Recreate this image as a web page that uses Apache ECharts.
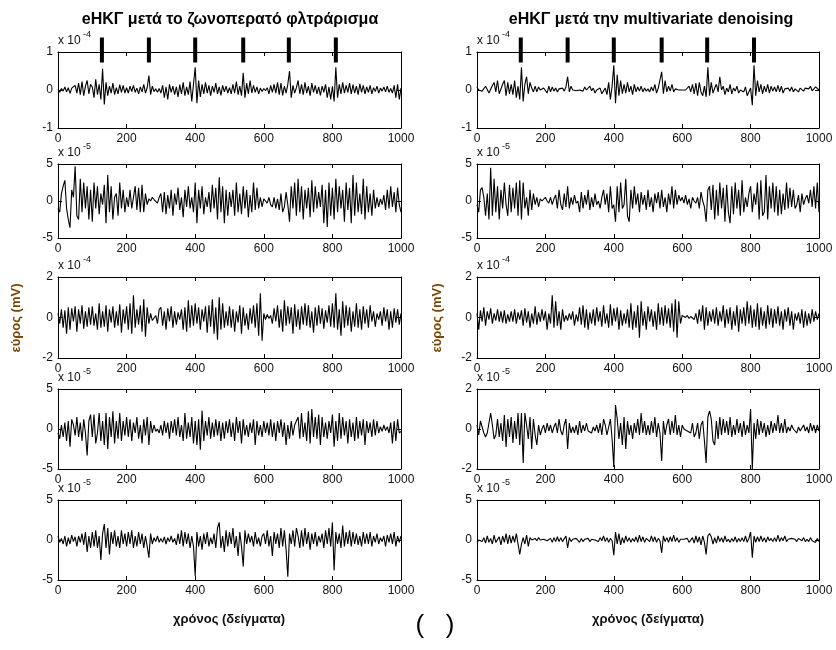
<!DOCTYPE html>
<html><head><meta charset="utf-8">
<script src="https://cdn.jsdelivr.net/npm/echarts@6/dist/echarts.min.js"></script>
<style>html,body{margin:0;padding:0;background:#fff}#c{width:836px;height:650px}</style>
</head><body><div id="c"></div><script>
// sample index (x axis), every 5th sample
const samples = [
0,5,10,15,20,25,30,35,40,45,50,55,60,65,70,75,80,85,90,95,
100,105,110,115,120,125,130,135,140,145,150,155,160,165,170,175,180,185,190,195,
200,205,210,215,220,225,230,235,240,245,250,255,260,265,270,275,280,285,290,295,
300,305,310,315,320,325,330,335,340,345,350,355,360,365,370,375,380,385,390,395,
400,405,410,415,420,425,430,435,440,445,450,455,460,465,470,475,480,485,490,495,
500,505,510,515,520,525,530,535,540,545,550,555,560,565,570,575,580,585,590,595,
600,605,610,615,620,625,630,635,640,645,650,655,660,665,670,675,680,685,690,695,
700,705,710,715,720,725,730,735,740,745,750,755,760,765,770,775,780,785,790,795,
800,805,810,815,820,825,830,835,840,845,850,855,860,865,870,875,880,885,890,895,
900,905,910,915,920,925,930,935,940,945,950,955,960,965,970,975,980,985,990,995,1000];

// amplitudes in units of 1e-6 mV
const bandpass1 = [
2,-6,4,-3,8,-5,6,-9,5,3,12,-8,18,-12,22,-15,10,25,-10,15,
8,-20,28,-12,15,-25,56,-38,20,-15,10,-8,18,-12,6,-10,14,-6,12,-8,
6,-8,10,-4,12,-6,5,-10,8,-5,15,-8,6,38,-12,10,-4,3,-6,4,
-8,12,-20,8,-25,15,-6,10,-12,8,-18,14,-10,20,-15,8,-12,22,-30,15,
60,-35,25,-18,15,-10,20,-8,12,-15,10,-6,18,-10,8,-14,12,-5,10,-8,
6,-10,15,-8,22,-12,10,-15,45,-20,18,-10,25,-8,12,-6,8,-10,5,-4,
4,-2,6,-10,12,-6,15,-8,20,-12,18,-14,10,-8,15,50,-20,12,-8,6,
25,-10,15,-12,20,-8,10,-15,18,-6,12,-10,8,-14,10,-6,15,-20,8,-25,
10,-30,60,-20,15,-10,20,-8,12,-6,18,-10,14,-8,10,-12,16,-6,12,-10,
8,-6,12,-10,6,-4,10,-8,5,-3,8,-5,10,-6,4,-8,12,-20,15,-25,5];
const denoised1 = [
8,0,-5,-3,2,10,5,-8,-5,12,20,-5,25,-10,-5,15,25,-15,20,-10,
15,-12,25,-20,10,-25,60,-30,15,35,-10,20,5,-5,10,-5,8,0,-5,5,
5,-8,10,-5,8,-3,5,-5,3,0,5,-3,8,35,-5,10,0,5,-2,3,
0,5,-3,8,0,-5,10,-2,5,-8,0,3,5,-10,-15,5,-12,20,-25,10,
65,-35,40,-15,25,-10,15,-8,20,-5,10,-12,15,-5,8,-3,10,-5,5,-3,
3,-5,8,-3,15,-8,5,0,48,-10,25,-5,10,-3,15,-5,3,5,0,-2,
0,2,0,-5,10,-5,15,-10,18,-15,20,-5,-15,10,-18,60,-15,20,-8,5,
15,-5,35,0,10,-12,5,-5,15,-10,5,-3,10,-8,0,5,-5,8,-15,-20,
5,-40,65,-15,25,-5,15,-10,10,-5,15,-8,10,-3,8,-5,12,-5,10,-8,
3,0,5,-3,8,-5,3,0,-5,5,0,-3,5,0,3,10,-2,-5,8,3,0];

const bandpass2 = [
-10,-15,10,20,28,-10,-25,-36,15,5,47,-20,-25,30,-15,25,-10,20,-25,15,
-28,25,-10,20,-18,10,-5,22,-30,35,-15,20,-25,5,10,-20,25,-10,15,-15,
5,-8,15,-10,5,20,-12,18,-15,22,-15,10,-5,3,0,5,2,0,-3,5,
10,-15,12,-18,8,-10,15,-20,10,-5,18,-12,5,-22,15,-8,20,-10,5,-15,
25,-30,15,-10,20,-18,5,-8,12,-15,22,-10,18,-25,32,-15,20,-30,15,-20,
12,-8,15,-20,25,-15,10,-18,20,-10,15,-22,8,-15,25,-12,18,-10,5,-8,
3,0,-3,5,-5,-8,5,-10,3,-12,10,-15,-8,12,-5,-28,20,-10,25,-20,
30,-15,20,-25,15,-10,18,-22,28,-15,20,-10,12,-8,22,-30,15,-35,25,-20,
18,-25,30,-15,20,-10,15,-28,25,-12,18,-30,35,-20,25,-15,10,-18,30,-25,
20,-15,10,-20,15,-10,5,-8,3,-5,8,-12,15,-10,20,-8,12,-15,18,-5,-15];
const denoised2 = [
-5,-15,15,18,5,-20,10,-25,45,-20,30,-15,20,-25,15,-10,25,-5,-20,22,
-15,18,-10,25,-20,28,-25,25,-10,5,-20,15,-12,10,-5,5,-8,3,0,2,
5,0,-3,5,-5,3,8,-10,15,-5,-12,10,-8,20,-10,5,-5,8,-3,0,
-15,12,-10,8,-5,15,-12,5,-8,10,-5,0,-10,5,15,-5,10,-15,20,-10,
-5,-28,20,-15,25,-10,-5,30,-20,-28,15,-10,20,-5,10,-15,12,-5,8,-12,
15,-8,5,-15,10,-3,12,-10,15,-8,5,-15,10,-5,20,-10,15,-5,8,0,
5,-3,8,-5,3,-10,5,0,-3,5,-10,12,0,-8,-28,15,20,-12,22,-25,
15,-20,25,-10,18,-28,22,-15,-30,20,-18,25,-10,15,-20,28,-15,5,-8,10,
20,-15,10,-5,25,-25,28,-20,-15,35,-25,20,-10,25,-15,20,-20,15,-18,10,
-12,25,-10,18,-8,15,-10,-5,8,-15,10,-5,3,8,-3,15,-8,20,-10,25,-15];

const bandpass3 = [
20,-30,40,-50,35,-80,50,-60,45,-20,55,-70,40,-30,60,-55,30,-45,50,-35,
55,-40,20,-60,70,-50,30,-45,60,-70,40,-25,55,-50,30,-40,65,-75,40,-30,
55,-60,70,-80,110,-50,40,-35,60,-70,90,-95,50,-30,20,-15,-20,10,-30,40,
50,-40,30,-60,45,-20,55,-50,30,-35,25,-10,40,-60,50,-70,85,-50,60,-40,
70,-30,50,-60,40,-20,55,-75,60,-45,90,-80,50,-110,100,-60,70,-50,30,-40,
55,-50,40,-70,30,-25,60,-80,50,-40,20,-60,45,-30,60,-50,70,-90,120,-115,
20,-10,15,-5,10,-30,45,-20,60,-50,40,-70,85,-40,55,-30,50,-80,65,-45,
40,-60,55,-35,70,-40,60,-50,30,-75,50,-40,60,-30,45,-55,35,-25,60,-45,
70,-50,120,-60,40,-90,80,-50,60,-40,50,-70,30,-45,70,-50,40,-60,55,-30,
40,-50,60,-20,30,-45,20,-10,30,-40,50,-20,40,-60,30,-50,45,-25,40,-35,20];
const denoised3 = [
20,-60,35,-20,50,-40,30,-10,45,-30,20,-15,40,-20,30,-25,35,-30,15,-20,
30,-20,40,-30,25,-10,35,-40,45,-25,30,-50,20,-30,55,-35,25,-20,40,-15,
30,-60,20,-30,110,-50,80,-40,30,-60,40,-20,10,-15,20,-10,30,-40,15,-20,
50,-35,60,-50,40,-60,25,-30,40,-40,50,-20,30,-45,60,-30,20,-50,65,-40,
45,-20,50,-60,35,-40,20,-30,40,-50,70,-60,30,-50,60,-100,80,-40,30,-60,
55,-20,40,-45,30,-60,70,-35,50,-40,60,-30,45,-50,70,-70,90,-100,80,-30,
10,5,0,10,-5,5,0,-10,20,-30,40,-20,60,-60,50,-40,30,-20,40,-30,
50,-40,30,-20,60,-50,40,-30,50,-60,30,-40,60,-70,40,-30,50,-40,80,-30,
60,-50,40,-45,70,-60,50,-40,30,-55,60,-35,45,-50,40,-30,55,-40,30,-60,
40,-20,50,-40,30,-60,20,-15,25,-30,40,-50,30,-40,20,-30,40,-20,30,-10,20];

const bandpass4 = [
-5,-12,5,-10,8,-15,10,-22,12,5,-8,15,-10,8,-15,12,-5,-33,10,18,
-10,18,-18,-5,20,-15,10,-20,20,-25,15,-10,22,-18,10,-12,20,-15,10,-8,
15,-10,12,-15,8,-5,15,-12,5,-18,12,-8,15,-20,10,-5,5,-3,0,-5,
5,-8,10,-5,8,-12,10,-5,12,-8,15,-10,5,-15,20,-12,8,-10,15,-18,
10,-20,12,-26,23,-15,10,-8,15,-12,8,-10,12,-8,10,-15,8,-12,10,-5,
12,-10,8,-15,15,-5,10,-18,12,-8,5,-10,8,-5,12,-20,10,-8,5,-10,
10,-5,8,-8,12,-10,8,-15,10,-5,12,-10,8,-20,5,-12,10,-8,5,10,
15,-12,20,-10,8,-15,22,-18,25,-10,15,-12,18,-20,15,-10,8,-12,10,-5,
18,-22,10,-15,20,-12,15,-8,10,-18,12,-10,8,-15,15,-12,10,-8,12,-20,
10,-5,8,-10,12,-8,10,-5,3,-3,5,-2,3,-5,8,-18,10,-15,12,-5,-3];
const denoised4 = [
2,-3,4,1,-2,-4,-2,3,8,2,-5,-3,5,-4,3,-6,7,-9,5,-4,
6,-7,4,-5,8,-8,8,-17,8,2,-5,6,-10,5,-3,-8,2,-3,0,2,
-2,3,-1,2,-2,1,3,-2,5,-1,-3,2,5,-10,3,-2,1,-2,2,-3,
4,-2,2,-1,3,-1,0,-2,1,-1,2,-2,3,-3,5,2,-3,-2,5,-5,
-19,12,5,-5,3,-8,6,-10,4,-3,2,-5,3,-2,5,-3,8,-2,4,-3,
2,-3,4,-2,6,-4,3,-2,-16,4,-3,2,5,-3,4,-2,7,-3,2,-4,
2,0,1,-1,0,-2,3,-4,-2,3,-5,2,4,-6,-17,6,9,5,-6,-8,
4,-5,6,-3,5,-2,4,-3,6,-4,2,-3,5,-2,3,-4,4,-3,2,-2,
10,-20,3,-5,5,-3,4,-2,3,-4,2,-3,4,-2,3,-1,7,-2,3,-2,
5,-2,1,-1,2,0,1,-2,1,-1,0,2,-1,1,-2,3,-1,2,-2,2,-1];

const bandpass5 = [
5,-3,2,-5,5,-8,3,-5,6,-2,4,-8,5,-3,8,-6,10,-15,5,-10,
10,-8,12,-10,5,-25,8,20,-10,15,-18,10,-5,12,-8,5,-10,12,-5,8,
-8,10,-5,12,-10,5,-8,10,-5,8,-10,5,-8,-22,8,-5,3,-2,5,-3,
2,-3,4,-5,3,-2,5,-3,2,-6,8,-5,12,-8,10,-5,8,-10,5,-8,
-45,10,-8,5,-12,8,-5,10,-8,3,-5,8,-10,15,22,-10,5,-15,12,-8,
10,-5,15,-10,5,-20,10,-8,-33,12,-5,8,-3,5,-8,10,-5,3,-8,5,
8,-5,12,-8,5,-20,10,-5,8,-10,15,-8,12,-12,-46,8,-5,12,-8,15,
5,-10,12,-8,15,-5,10,-12,8,-5,10,-8,5,-3,8,-10,12,-5,15,-8,
22,-38,10,-5,8,-10,18,-8,10,-5,12,-8,10,-5,8,-6,5,-8,10,-5,
8,-5,10,-8,5,-3,8,-5,3,-2,5,-8,6,-3,8,-5,10,-8,5,-3,5];
const denoised5 = [
-3,0,2,-2,3,-4,5,-3,2,-5,6,-3,-5,4,-6,5,-3,8,-5,6,
-4,5,-3,8,10,-18,-5,3,-5,6,-8,3,0,-2,2,-1,3,0,-2,1,
2,-1,0,2,-3,3,-2,4,-2,3,-2,0,5,-10,3,-2,1,-1,2,0,
-3,2,-2,1,0,2,-2,1,-1,0,1,-2,3,-1,5,-2,3,-3,2,-1,
-19,10,-5,8,-6,3,-4,5,-2,3,-3,2,-2,4,-3,6,-2,4,-3,2,
3,-2,5,-2,4,-3,2,-1,-16,5,-2,3,-3,4,-2,6,-2,3,-3,1,
0,1,-1,2,-3,-2,3,-4,5,-3,4,-6,5,-3,-18,5,8,4,-5,3,
-4,5,-2,3,-3,5,-2,1,-3,2,-2,4,-3,2,-2,3,-2,5,-3,2,
10,-22,5,-3,4,-2,5,-2,3,-3,4,-1,2,-2,3,-2,6,-2,3,-1,
5,-2,1,-1,2,0,1,-2,2,0,-1,3,-2,1,-2,3,-1,0,-3,2,-2];

// R-peak markers (sample index)
const beatMarkers = [128, 265, 400, 540, 673, 810];

const titles = ['eΗΚΓ μετά το ζωνοπερατό φλτράρισμα', 'eΗΚΓ μετά την multivariate denoising'];
const yAxisName = 'εύρος (mV)';
const xAxisName = 'χρόνος (δείγματα)';
// axis limits (1e-6 mV units), label divisor and exponent per row [left, right]
const yLimits = [[100,100],[50,50],[200,200],[50,20],[50,50]];
const yLabelDiv = [[100,100],[10,10],[100,100],[10,10],[10,10]];
const exponents = [['-4','-4'],['-5','-5'],['-4','-4'],['-5','-5'],['-5','-5']];
const seriesData = [[bandpass1, denoised1],[bandpass2, denoised2],[bandpass3, denoised3],[bandpass4, denoised4],[bandpass5, denoised5]];

const FONT = '"Liberation Sans", Arial, sans-serif';
const colLeft = [58, 477], colWidth = [343, 342];
const rowTop = [52, 164, 277, 389, 500], rowH = [76, 74, 81, 80, 80];

const grids = [], xAxes = [], yAxes = [], series = [], graphics = [];
const tickStyle = {show: true, inside: true, length: 4, lineStyle: {color: '#000', width: 1}};
const lineStyle = {show: true, onZero: false, lineStyle: {color: '#000', width: 1}};
for (let r = 0; r < 5; r++) {
  for (let c = 0; c < 2; c++) {
    const g = grids.length;
    grids.push({left: colLeft[c], top: rowTop[r], width: colWidth[c], height: rowH[r], containLabel: false});
    const M = yLimits[r][c], D = yLabelDiv[r][c];
    xAxes.push({type: 'value', gridIndex: g, min: 0, max: 1000, interval: 200, position: 'bottom',
      axisLine: lineStyle, axisTick: tickStyle, splitLine: {show: false},
      axisLabel: {color: '#111', fontSize: 12, fontFamily: FONT, margin: 5, showMinLabel: true, showMaxLabel: true,
        formatter: v => String(v)}});
    xAxes.push({type: 'value', gridIndex: g, min: 0, max: 1000, interval: 200, position: 'top',
      axisLine: lineStyle, axisTick: tickStyle, splitLine: {show: false}, axisLabel: {show: false}});
    yAxes.push({type: 'value', gridIndex: g, min: -M, max: M, interval: M, position: 'left',
      axisLine: lineStyle, axisTick: tickStyle, splitLine: {show: false},
      axisLabel: {color: '#111', fontSize: 12, fontFamily: FONT, margin: 5, showMinLabel: true, showMaxLabel: true,
        formatter: v => String(Math.round(v / D))}});
    yAxes.push({type: 'value', gridIndex: g, min: -M, max: M, interval: M, position: 'right',
      axisLine: lineStyle, axisTick: tickStyle, splitLine: {show: false}, axisLabel: {show: false}});
    const vals = seriesData[r][c];
    series.push({type: 'line', xAxisIndex: 2 * g, yAxisIndex: 2 * g, showSymbol: false, symbol: 'none',
      lineStyle: {color: '#000', width: 1.1}, data: vals.map((v, i) => [samples[i], v]), z: 3});
    if (r === 0) {
      series.push({type: 'scatter', xAxisIndex: 2 * g, yAxisIndex: 2 * g, symbol: 'rect', symbolSize: [4, 25],
        symbolOffset: [0, -2], clip: false, itemStyle: {color: '#000', opacity: 1}, z: 5,
        data: beatMarkers.map(x => [x, M])});
    }
    // exponent label
    graphics.push({type: 'text', x: colLeft[c], y: rowTop[r] - 11,
      style: {text: 'x 10', font: '12px ' + FONT, fill: '#111', textAlign: 'left', textVerticalAlign: 'middle'}});
    graphics.push({type: 'text', x: colLeft[c] + 25, y: rowTop[r] - 17,
      style: {text: exponents[r][c], font: '9px ' + FONT, fill: '#111', textAlign: 'left', textVerticalAlign: 'middle'}});
  }
}
const titleCenter = [230, 651];
const labelCenter = [229, 648];
for (let c = 0; c < 2; c++) {
  graphics.push({type: 'text', x: titleCenter[c], y: 20,
    style: {text: titles[c], font: 'bold 16px ' + FONT, fill: '#000', textAlign: 'center', textVerticalAlign: 'middle'}});
  graphics.push({type: 'text', x: labelCenter[c], y: 619,
    style: {text: xAxisName, font: 'bold 13px ' + FONT, fill: '#111', textAlign: 'center', textVerticalAlign: 'middle'}});
  graphics.push({type: 'text', x: c === 0 ? 16 : 437, y: 318, rotation: Math.PI / 2,
    style: {text: yAxisName, font: 'bold 13px ' + FONT, fill: '#7a4500', textAlign: 'center', textVerticalAlign: 'middle'}});
}
graphics.push({type: 'text', x: 435, y: 626,
  style: {text: '(   )', font: '26px ' + FONT, fill: '#000', textAlign: 'center', textVerticalAlign: 'middle'}});

const chart = echarts.init(document.getElementById('c'), null, {renderer: 'canvas'});
chart.setOption({animation: false, backgroundColor: '#fff', grid: grids, xAxis: xAxes, yAxis: yAxes, series: series, graphic: graphics});
</script></body></html>
